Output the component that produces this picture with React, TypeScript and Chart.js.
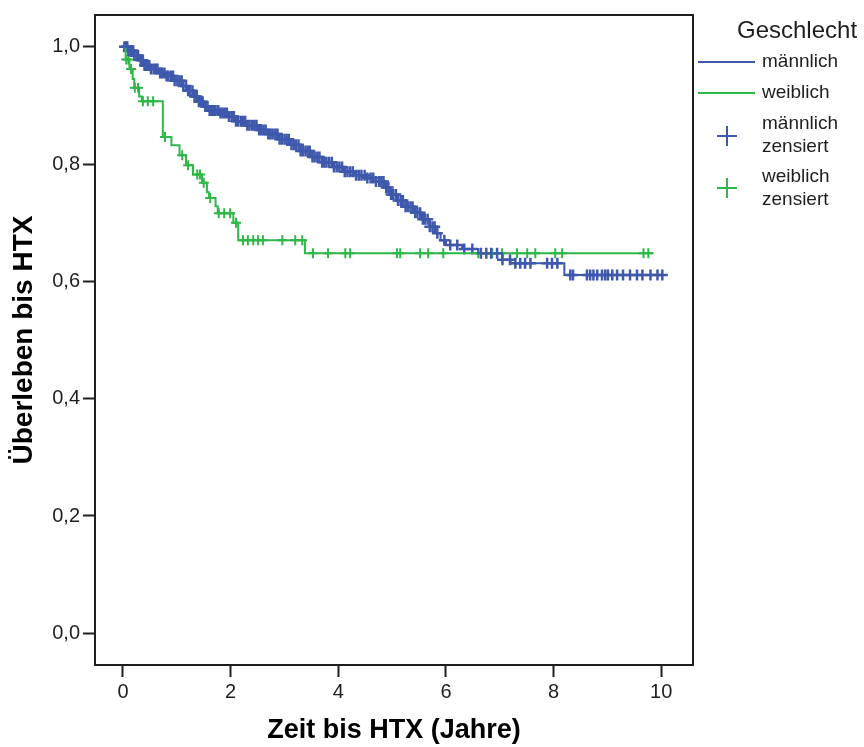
import React, { useEffect, useRef } from 'react';
import { Chart, registerables } from 'chart.js';

Chart.register(...registerables);

// Kaplan-Meier steps: at each time the survival becomes the listed value
const maleTimes = [0, 0.1, 0.2, 0.3, 0.4, 0.5, 0.65, 0.8, 0.95, 1.1, 1.2, 1.3, 1.4, 1.5, 1.6, 1.8, 1.95, 2.1, 2.3, 2.5, 2.7, 2.9, 3.1, 3.3, 3.5, 3.7, 3.9, 4.1, 4.3, 4.5, 4.7, 4.85, 4.95, 5.1, 5.25, 5.4, 5.55, 5.7, 5.8, 5.9, 6.0, 6.3, 6.6, 7.05, 7.2, 8.2];
const maleSurvival = [1.0, 0.993, 0.985, 0.977, 0.968, 0.962, 0.955, 0.95, 0.942, 0.933, 0.925, 0.915, 0.906, 0.898, 0.891, 0.887, 0.881, 0.873, 0.866, 0.858, 0.851, 0.842, 0.833, 0.822, 0.812, 0.803, 0.795, 0.787, 0.781, 0.776, 0.77, 0.76, 0.748, 0.738, 0.727, 0.717, 0.706, 0.693, 0.682, 0.67, 0.662, 0.655, 0.648, 0.637, 0.631, 0.611];
const maleEnd = 10.05;

const femaleTimes = [0, 0.05, 0.12, 0.18, 0.21, 0.3, 0.35, 0.74, 0.9, 1.05, 1.17, 1.3, 1.47, 1.56, 1.6, 1.72, 1.76, 2.05, 2.14, 3.38];
const femaleSurvival = [1.0, 0.978, 0.962, 0.945, 0.93, 0.915, 0.907, 0.846, 0.832, 0.815, 0.798, 0.782, 0.768, 0.752, 0.742, 0.728, 0.716, 0.7, 0.67, 0.648];
const femaleEnd = 9.85;

const maleCensored = [0.03, 0.06, 0.08, 0.1, 0.14, 0.17, 0.19, 0.21, 0.25, 0.28, 0.33, 0.37, 0.4, 0.43, 0.45, 0.49, 0.52, 0.57, 0.61, 0.64, 0.69, 0.73, 0.77, 0.81, 0.84, 0.89, 0.93, 0.96, 1.01, 1.05, 1.09, 1.12, 1.17, 1.21, 1.24, 1.29, 1.33, 1.37, 1.41, 1.45, 1.48, 1.53, 1.57, 1.61, 1.65, 1.69, 1.72, 1.77, 1.81, 1.85, 1.89, 1.93, 1.97, 2.02, 2.06, 2.1, 2.14, 2.19, 2.23, 2.27, 2.31, 2.35, 2.4, 2.44, 2.48, 2.53, 2.57, 2.61, 2.65, 2.7, 2.74, 2.78, 2.83, 2.87, 2.91, 2.95, 3.0, 3.04, 3.08, 3.13, 3.17, 3.21, 3.26, 3.3, 3.34, 3.39, 3.43, 3.47, 3.52, 3.56, 3.61, 3.65, 3.7, 3.74, 3.78, 3.83, 3.88, 3.92, 3.97, 4.02, 4.07, 4.12, 4.17, 4.22, 4.27, 4.33, 4.38, 4.43, 4.49, 4.54, 4.6, 4.65, 4.7, 4.76, 4.8, 4.84, 4.89, 4.93, 4.98, 5.02, 5.07, 5.11, 5.16, 5.2, 5.25, 5.29, 5.34, 5.38, 5.43, 5.47, 5.52, 5.57, 5.61, 5.66, 5.7, 5.75, 5.79, 5.84, 5.97, 6.08, 6.21, 6.34, 6.49, 6.65, 6.75, 6.84, 6.95, 7.05, 7.19, 7.29, 7.38, 7.47, 7.57, 7.88, 7.97, 8.07, 8.31, 8.36, 8.62, 8.68, 8.74, 8.81, 8.9, 8.96, 9.01, 9.09, 9.18, 9.29, 9.42, 9.55, 9.65, 9.8, 9.93, 10.02];
const femaleCensored = [0.02, 0.06, 0.1, 0.15, 0.22, 0.28, 0.37, 0.46, 0.56, 0.78, 1.1, 1.21, 1.38, 1.43, 1.5, 1.62, 1.78, 1.88, 1.99, 2.1, 2.23, 2.32, 2.42, 2.51, 2.6, 2.96, 3.2, 3.33, 3.53, 3.81, 4.13, 4.22, 5.09, 5.15, 5.52, 5.67, 5.95, 6.6, 6.86, 7.04, 7.32, 7.51, 7.66, 8.03, 8.16, 9.67, 9.76];

const xTicks = [0, 2, 4, 6, 8, 10];
const yTicks = [0, 0.2, 0.4, 0.6, 0.8, 1.0];

const legendTitle = 'Geschlecht';
const legendLabels = ['männlich', 'weiblich', 'männlich\nzensiert', 'weiblich\nzensiert'];

const BLUE = '#3e58ac';
const GREEN = '#2eb848';
const INK = '#1e1e1e';
const FONT = "'Liberation Sans', Arial, sans-serif";

function stepValue(times: number[], surv: number[], t: number): number {
  let v = surv[0];
  for (let i = 0; i < times.length; i++) {
    if (times[i] <= t) v = surv[i];
  }
  return v;
}

function curve(times: number[], surv: number[], end: number) {
  const pts = times.map((t, i) => ({ x: t, y: surv[i] }));
  pts.push({ x: end, y: surv[surv.length - 1] });
  return pts;
}

const frame = {
  id: 'frame',
  beforeDatasetsDraw(chart: any) {
    const { ctx, chartArea } = chart;
    ctx.save();
    ctx.strokeStyle = INK;
    ctx.lineWidth = 2;
    ctx.strokeRect(chartArea.left, chartArea.top, chartArea.right - chartArea.left, chartArea.bottom - chartArea.top);
    ctx.restore();
  },
};

const legendPlugin = {
  id: 'kmLegend',
  afterDraw(chart: any) {
    const { ctx } = chart;
    ctx.save();
    ctx.fillStyle = INK;
    ctx.textBaseline = 'middle';
    ctx.textAlign = 'left';
    ctx.font = `24px ${FONT}`;
    ctx.fillText(legendTitle, 737, 31);
    ctx.font = `19px ${FONT}`;
    ctx.lineWidth = 2;
    ctx.strokeStyle = BLUE;
    ctx.beginPath(); ctx.moveTo(698, 62); ctx.lineTo(755, 62); ctx.stroke();
    ctx.strokeStyle = GREEN;
    ctx.beginPath(); ctx.moveTo(698, 93); ctx.lineTo(755, 93); ctx.stroke();
    ctx.fillText(legendLabels[0], 762, 62);
    ctx.fillText(legendLabels[1], 762, 93);
    const cross = (cx: number, cy: number, color: string) => {
      ctx.strokeStyle = color;
      ctx.lineWidth = 2;
      ctx.beginPath();
      ctx.moveTo(cx - 10, cy); ctx.lineTo(cx + 10, cy);
      ctx.moveTo(cx, cy - 10); ctx.lineTo(cx, cy + 10);
      ctx.stroke();
    };
    cross(727, 136, BLUE);
    cross(727, 188, GREEN);
    const l2 = legendLabels[2].split('\n');
    ctx.fillText(l2[0], 762, 124);
    ctx.fillText(l2[1], 762, 147);
    const l3 = legendLabels[3].split('\n');
    ctx.fillText(l3[0], 762, 177);
    ctx.fillText(l3[1], 762, 200);
    ctx.restore();
  },
};

export default function App() {
  const ref = useRef<HTMLCanvasElement | null>(null);

  useEffect(() => {
    if (!ref.current) return;
    const chart = new Chart(ref.current, {
      type: 'scatter',
      data: {
        datasets: [
          {
            label: 'männlich',
            data: curve(maleTimes, maleSurvival, maleEnd),
            showLine: true,
            stepped: true,
            borderColor: BLUE,
            borderWidth: 2,
            pointRadius: 0,
            fill: false,
          },
          {
            label: 'weiblich',
            data: curve(femaleTimes, femaleSurvival, femaleEnd),
            showLine: true,
            stepped: true,
            borderColor: GREEN,
            borderWidth: 2,
            pointRadius: 0,
            fill: false,
          },
          {
            label: 'männlich zensiert',
            data: maleCensored.map((t) => ({ x: t, y: stepValue(maleTimes, maleSurvival, t) })),
            showLine: false,
            pointStyle: 'cross',
            pointRadius: 5.5,
            pointBorderWidth: 2.5,
            borderColor: BLUE,
            backgroundColor: BLUE,
          },
          {
            label: 'weiblich zensiert',
            data: femaleCensored.map((t) => ({ x: t, y: stepValue(femaleTimes, femaleSurvival, t) })),
            showLine: false,
            pointStyle: 'cross',
            pointRadius: 5,
            pointBorderWidth: 2,
            borderColor: GREEN,
            backgroundColor: GREEN,
          },
        ],
      },
      options: {
        animation: false,
        responsive: false,
        maintainAspectRatio: false,
        layout: { padding: { top: 10, right: 171, left: 0, bottom: 0 } },
        plugins: {
          legend: { display: false },
          tooltip: { enabled: false },
        },
        scales: {
          x: {
            type: 'linear',
            min: -0.52,
            max: 10.59,
            afterBuildTicks: (scale: any) => {
              scale.ticks = xTicks.map((v) => ({ value: v }));
            },
            afterFit: (scale: any) => {
              scale.height = 82;
            },
            ticks: {
              color: INK,
              font: { family: FONT, size: 20 },
              padding: 3,
              callback: (v: any) => String(v),
            },
            grid: {
              display: true,
              drawOnChartArea: false,
              drawTicks: true,
              tickLength: 12,
              tickWidth: 2,
              tickColor: INK,
              color: INK,
            },
            border: { display: true, color: INK, width: 2 },
            title: {
              display: true,
              text: 'Zeit bis HTX (Jahre)',
              color: '#000000',
              font: { family: FONT, size: 27, weight: 'bold' },
              padding: { top: 0, bottom: 0 },
            },
          },
          y: {
            type: 'linear',
            min: -0.054,
            max: 1.054,
            afterBuildTicks: (scale: any) => {
              scale.ticks = yTicks.map((v) => ({ value: v }));
            },
            afterFit: (scale: any) => {
              scale.width = 95;
            },
            ticks: {
              color: INK,
              font: { family: FONT, size: 20 },
              padding: 3,
              callback: (v: any) => Number(v).toFixed(1).replace('.', ','),
            },
            grid: {
              display: true,
              drawOnChartArea: false,
              drawTicks: true,
              tickLength: 12,
              tickWidth: 2,
              tickColor: INK,
              color: INK,
            },
            border: { display: true, color: INK, width: 2 },
            title: {
              display: true,
              text: 'Überleben bis HTX',
              color: '#000000',
              font: { family: FONT, size: 28, weight: 'bold' },
              padding: { top: 7, bottom: 0 },
            },
          },
        },
      },
      plugins: [frame, legendPlugin],
    });
    return () => chart.destroy();
  }, []);

  return (
    <div style={{ position: 'fixed', left: 0, top: 0, width: 864, height: 747, background: '#ffffff' }}>
      <canvas ref={ref} width={864} height={747} style={{ width: 864, height: 747 }} />
    </div>
  );
}
